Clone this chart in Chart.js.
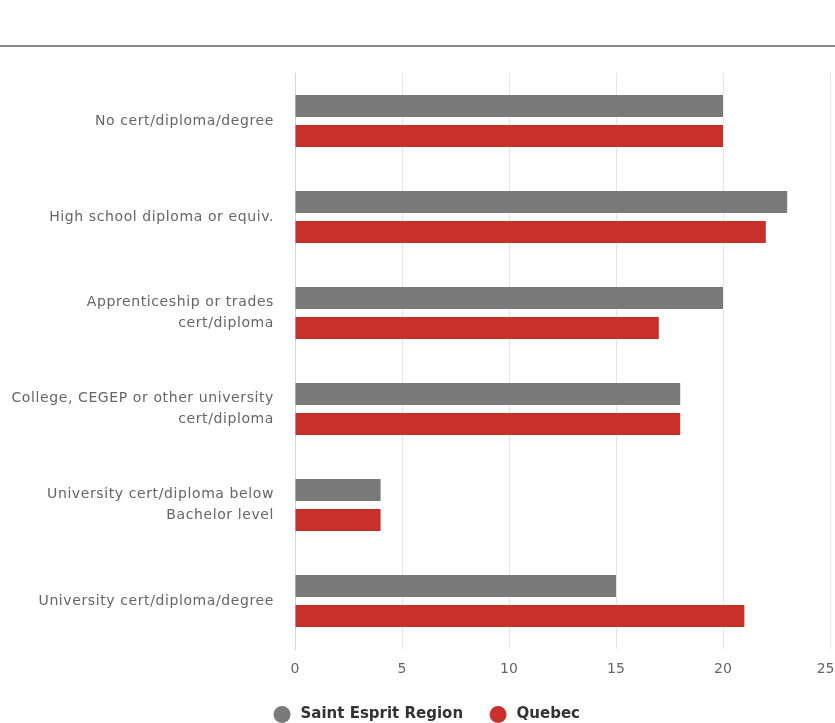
<!DOCTYPE html>
<html>
<head>
<meta charset="utf-8">
<script src="https://cdn.jsdelivr.net/npm/chart.js@4"></script>
<style>
  html, body { margin: 0; padding: 0; background: #fff; overflow: hidden; }
  #wrap { position: relative; width: 835px; height: 723px; overflow: hidden; }
  #rule { position: absolute; left: 0; top: 45px; width: 835px; height: 2px; background: #888; }
  canvas { position: absolute; left: 0; top: 0; }
</style>
</head>
<body>
<div id="wrap">
  <div id="rule"></div>
  <canvas id="c" width="835" height="723"></canvas>
</div>
<script>
const categories = [
  "No cert/diploma/degree",
  "High school diploma or equiv.",
  ["Apprenticeship or trades", "cert/diploma"],
  ["College, CEGEP or other university", "cert/diploma"],
  ["University cert/diploma below", "Bachelor level"],
  "University cert/diploma/degree"
];
const saintEspritValues = [20, 23, 20, 18, 4, 15];
const quebecValues = [20, 22, 17, 18, 4, 21];
const xTicks = [0, 5, 10, 15, 20, 25];
const seriesNames = ["Saint Esprit Region", "Quebec"];
const seriesColors = ['#797979', '#c8302c'];

const FONT = "'DejaVu Sans', Verdana, sans-serif";
const MARKER_W = 36;

function makeMarker(color) {
  const cv = document.createElement('canvas');
  cv.width = MARKER_W; cv.height = 17;
  const g = cv.getContext('2d');
  g.fillStyle = color;
  g.beginPath();
  g.arc(MARKER_W - 2.5 - 8.5, 8.5, 8.5, 0, Math.PI * 2);
  g.fill();
  return cv;
}
const markers = seriesColors.map(makeMarker);

const letterSpacingPlugin = {
  id: 'ySpacing',
  beforeDraw(chart) { chart.ctx.letterSpacing = '0px'; },
  afterDatasetsDraw(chart) { chart.ctx.letterSpacing = '0.6px'; },
  afterDraw(chart) { chart.ctx.letterSpacing = '0px'; }
};

new Chart(document.getElementById('c'), {
  type: 'bar',
  data: {
    labels: categories,
    datasets: [
      { label: seriesNames[0], data: saintEspritValues, backgroundColor: seriesColors[0],
        categoryPercentage: 0.625, barPercentage: 0.733 },
      { label: seriesNames[1], data: quebecValues, backgroundColor: seriesColors[1],
        categoryPercentage: 0.625, barPercentage: 0.733 }
    ]
  },
  plugins: [letterSpacingPlugin],
  options: {
    indexAxis: 'y',
    responsive: false,
    animation: false,
    layout: { padding: { top: 73, right: 5, left: 7, bottom: -9 } },
    scales: {
      x: {
        min: 0, max: 25,
        afterBuildTicks: (s) => { s.ticks = xTicks.map(v => ({ value: v })); },
        grid: { color: '#e6e6e6', drawTicks: false },
        border: { display: false },
        ticks: {
          color: '#666', font: { family: FONT, size: 14 }, padding: 12,
          callback: (v, i, arr) => (i === arr.length - 1 ? String(v) + '\u00a0\u00a0' : String(v))
        },
        afterFit: (s) => { s.height = 48; s.paddingLeft = 0; s.paddingRight = 0; }
      },
      y: {
        grid: { display: false, drawTicks: false },
        border: { display: true, color: '#ccd6eb', width: 1 },
        ticks: { color: '#666', font: { family: FONT, size: 14, lineHeight: 1.5 }, padding: 21, z: 1 },
        afterFit: (s) => { s.width = 288; }
      }
    },
    plugins: {
      legend: {
        position: 'bottom',
        labels: {
          usePointStyle: true,
          pointStyleWidth: MARKER_W,
          boxHeight: 12,
          color: '#333', font: { family: FONT, size: 15, weight: 'bold' },
          padding: 10,
          generateLabels: (chart) => {
            const items = Chart.defaults.plugins.legend.labels.generateLabels(chart);
            items.forEach((it, i) => { it.pointStyle = markers[i]; });
            return items;
          }
        }
      },
      tooltip: { enabled: false }
    }
  }
});
</script>
</body>
</html>
